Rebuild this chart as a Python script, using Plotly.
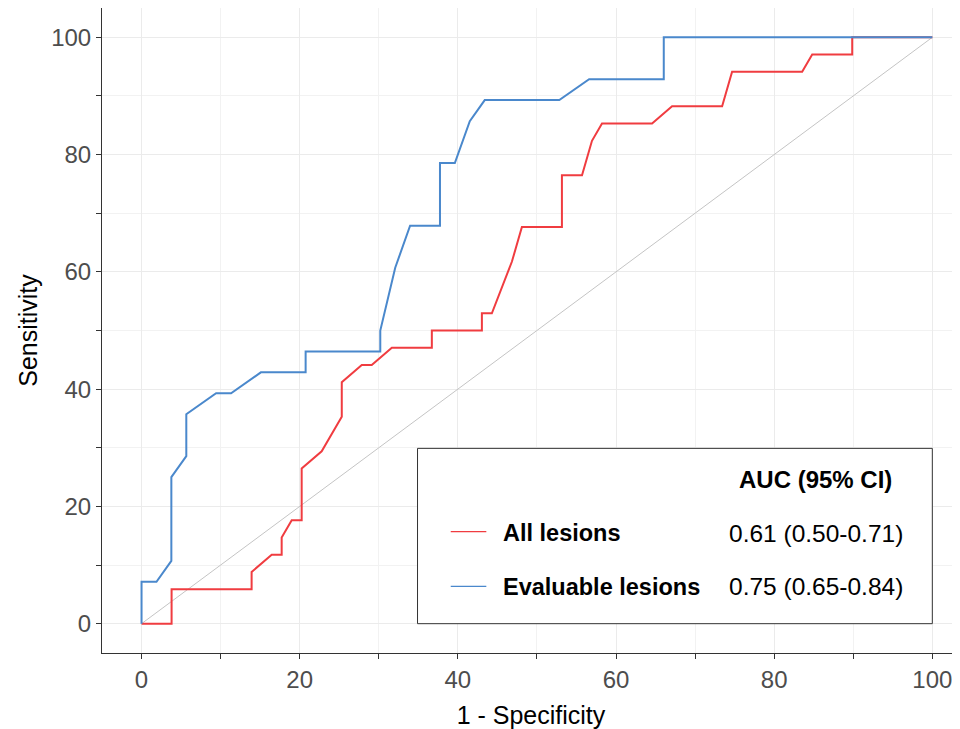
import plotly.graph_objects as go

# ---- data (percent) ----
all_fpr = [0, 3.80, 3.80, 13.92, 13.92, 16.46, 17.72, 17.72, 18.99, 20.25, 20.25, 22.78,
           25.32, 25.32, 27.85, 29.11, 31.65, 36.71, 36.71, 43.04, 43.04, 44.30, 46.84,
           48.10, 53.16, 53.16, 55.70, 56.96, 58.23, 64.56, 67.09, 73.42, 74.68, 83.54,
           84.81, 89.87, 89.87, 100]
all_tpr = [0, 0, 5.88, 5.88, 8.82, 11.76, 11.76, 14.71, 17.65, 17.65, 26.47, 29.41,
           35.29, 41.18, 44.12, 44.12, 47.06, 47.06, 50.00, 50.00, 52.94, 52.94, 61.76,
           67.65, 67.65, 76.47, 76.47, 82.35, 85.29, 85.29, 88.24, 88.24, 94.12, 94.12,
           97.06, 97.06, 100, 100]

eval_fpr = [0, 0, 1.89, 3.77, 3.77, 5.66, 5.66, 9.43, 11.32, 15.09, 20.75, 20.75, 30.19,
            30.19, 32.08, 33.96, 37.74, 37.74, 39.62, 41.51, 43.40, 52.83, 56.60, 66.04,
            66.04, 100]
eval_tpr = [0, 7.14, 7.14, 10.71, 25.00, 28.57, 35.71, 39.29, 39.29, 42.86, 42.86, 46.43,
            46.43, 50.00, 60.71, 67.86, 67.86, 78.57, 78.57, 85.71, 89.29, 89.29, 92.86,
            92.86, 100, 100]

ref_line = [0, 100]

series_names = ["All lesions", "Evaluable lesions"]
auc_labels = ["0.61 (0.50-0.71)", "0.75 (0.65-0.84)"]
x_ticks = [0, 20, 40, 60, 80, 100]
y_ticks = [0, 20, 40, 60, 80, 100]

RED = "#F03C40"
BLUE = "#4A88CC"
FONT = "Liberation Sans, Arial, sans-serif"

fig = go.Figure()
fig.add_trace(go.Scatter(x=ref_line, y=ref_line, mode="lines",
                         line=dict(color="#C4C4C4", width=1), hoverinfo="skip",
                         showlegend=False))
fig.add_trace(go.Scatter(x=all_fpr, y=all_tpr, mode="lines", name=series_names[0],
                         line=dict(color=RED, width=2), showlegend=False))
fig.add_trace(go.Scatter(x=eval_fpr, y=eval_tpr, mode="lines", name=series_names[1],
                         line=dict(color=BLUE, width=2), showlegend=False))

axis_common = dict(
    automargin=False,
    showline=True, linecolor="#333333", linewidth=1,
    ticks="outside", ticklen=5, tickcolor="#333333", tickwidth=1,
    showgrid=True, gridcolor="#EBEBEB", gridwidth=1,
    zeroline=False,
    tickfont=dict(family=FONT, size=24, color="#4D4D4D"),
    minor=dict(dtick=10, tick0=0, ticks="outside", ticklen=5, tickcolor="#333333",
               showgrid=True, gridcolor="#F2F2F2", gridwidth=1),
)

fig.update_xaxes(range=[-5, 103.5], tickvals=x_ticks, mirror=True,
                 title=dict(text="1 - Specificity", font=dict(family=FONT, size=25, color="black"),
                            standoff=15),
                 **axis_common)
fig.update_yaxes(range=[-5, 105], tickvals=y_ticks, mirror=False,
                 title=dict(text="Sensitivity", font=dict(family=FONT, size=25, color="black"),
                            standoff=6),
                 **axis_common)

# legend box
shapes = [dict(type="rect", xref="x", yref="y", x0=34.9, x1=100, y0=0, y1=29.9,
               line=dict(color="#333333", width=1), fillcolor="white", layer="between")]
for yy, col in [(15.7, RED), (6.35, BLUE)]:
    shapes.append(dict(type="line", xref="x", yref="y", x0=39.1, x1=43.6, y0=yy, y1=yy,
                       line=dict(color=col, width=1.2), layer="above"))

annotations = [
    dict(x=85.2, y=24.6, xref="x", yref="y", text="<b>AUC (95% CI)</b>", showarrow=False,
         xanchor="center", yanchor="middle", font=dict(family=FONT, size=24, color="black")),
]
for yy, name, auc in [(15.4, series_names[0], auc_labels[0]), (6.3, series_names[1], auc_labels[1])]:
    annotations.append(dict(x=45.4, y=yy, xref="x", yref="y", text=f"<b>{name}</b>",
                            showarrow=False, xanchor="left", yanchor="middle",
                            font=dict(family=FONT, size=23.5, color="black")))
    annotations.append(dict(x=74.05, y=yy, xref="x", yref="y", text=auc,
                            showarrow=False, xanchor="left", yanchor="middle",
                            font=dict(family=FONT, size=24.5, color="black")))

# page body adds an 8 px offset; size the figure so the plot lands where the reference has it
fig.update_layout(
    width=952, height=721,
    margin=dict(l=94, r=0, t=0, b=76),
    plot_bgcolor="white", paper_bgcolor="white",
    shapes=shapes, annotations=annotations,
    showlegend=False,
)

fig.write_html("out.html")
